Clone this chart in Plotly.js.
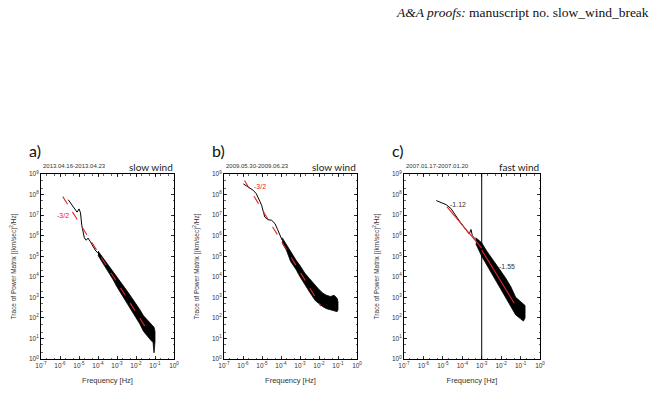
<!DOCTYPE html>
<html>
<head>
<meta charset="utf-8">
<script src="https://cdn.plot.ly/plotly-3.0.1.min.js"></script>
<style>
  html, body { margin: 0; padding: 0; background: #fff; }
  #chart { width: 659px; height: 393px; }
</style>
</head>
<body>
<div id="chart"></div>
<script>
// ---- Panel a: slow wind 2013.04.16-2013.04.23 ----
const aLineFreq  = [2.7e-6, 4.0e-6, 5.6e-6, 7.9e-6, 1.0e-5, 1.2e-5, 1.4e-5, 1.9e-5, 2.4e-5, 3.0e-5, 4.0e-5, 5.0e-5, 7.1e-5, 1.0e-4];
const aLinePower = [5.6e7, 3.5e7, 2.2e7, 1.4e7, 2.0e7, 1.3e7, 3.2e6, 7.9e5, 6.0e5, 7.6e5, 5.0e5, 3.5e5, 2.0e5, 1.4e5];
const aBandFreq  = [1.0e-4, 1.6e-4, 3.2e-4, 6.3e-4, 1.0e-3, 1.6e-3, 3.2e-3, 6.3e-3, 1.0e-2, 1.6e-2, 2.5e-2, 4.0e-2, 5.6e-2, 7.9e-2, 8.9e-2, 1.0e-1];
const aBandUpper = [1.8e5, 1.0e5, 4.5e4, 1.8e4, 1.0e4, 5.6e3, 2.2e3, 8.9e2, 5.0e2, 2.5e2, 1.26e2, 7.9e1, 5.6e1, 4.0e1, 3.5e1, 2.2e1];
const aBandLower = [1.1e5, 5.6e4, 2.0e4, 7.1e3, 3.2e3, 1.6e3, 5.6e2, 2.0e2, 1.0e2, 5.0e1, 2.2e1, 1.26e1, 8.9e0, 6.3e0, 2.0e0, 7.1e0];
const aFitFreq   = [1.4e-6, 3.7e-2];
const aFitPower  = [7.9e7, 2.8e1];

// ---- Panel b: slow wind 2009.05.30-2009.06.23 ----
const bLineFreq  = [1.05e-6, 2.0e-6, 3.5e-6, 5.0e-6, 6.3e-6, 7.9e-6, 9.5e-6, 1.2e-5, 1.4e-5, 1.8e-5, 2.1e-5, 3.2e-5, 4.0e-5, 4.8e-5, 6.6e-5, 8.9e-5, 1.15e-4];
const bLinePower = [3.3e8, 2.2e8, 1.6e8, 1.1e8, 7.4e7, 4.5e7, 3.0e7, 1.4e7, 8.1e6, 6.6e6, 6.0e6, 5.6e6, 4.8e6, 3.9e6, 2.0e6, 1.0e6, 6.0e5];
const bBandFreq  = [1.15e-4, 2.0e-4, 3.2e-4, 6.3e-4, 1.0e-3, 1.8e-3, 3.2e-3, 6.3e-3, 1.0e-2, 1.6e-2, 2.5e-2, 4.0e-2, 6.3e-2, 8.9e-2, 1.0e-1];
const bBandUpper = [8.0e5, 3.5e5, 1.5e5, 6.3e4, 3.5e4, 1.5e4, 8.0e3, 3.8e3, 2.4e3, 1.6e3, 1.25e3, 1.1e3, 1.25e3, 9.0e2, 6.3e2];
const bBandLower = [4.5e5, 1.8e5, 5.6e4, 2.2e4, 1.0e4, 4.0e3, 1.8e3, 7.0e2, 4.8e2, 3.5e2, 2.8e2, 2.5e2, 2.2e2, 2.0e2, 2.5e2];
const bFitFreq   = [1.2e-6, 1.25e-2];
const bFitPower  = [4.8e8, 3.7e2];

// ---- Panel c: fast wind 2007.01.17-2007.01.20 ----
const cLineFreq  = [4.6e-6, 7.9e-6, 1.5e-5, 2.6e-5, 4.0e-5, 7.1e-5, 1.26e-4, 1.8e-4, 2.3e-4, 2.8e-4, 3.3e-4, 4.5e-4, 6.2e-4, 7.9e-4];
const cLinePower = [5.1e7, 4.2e7, 3.2e7, 2.1e7, 1.1e7, 5.2e6, 2.5e6, 1.6e6, 1.2e6, 2.0e6, 1.0e6, 7.1e5, 5.8e5, 4.0e5];
const cBandFreq  = [5.0e-4, 1.0e-3, 1.8e-3, 3.2e-3, 5.6e-3, 1.0e-2, 1.8e-2, 3.2e-2, 5.6e-2, 1.0e-1, 1.4e-1, 1.7e-1];
const cBandUpper = [7.9e5, 4.5e5, 1.8e5, 8.0e4, 3.5e4, 1.8e4, 8.0e3, 3.2e3, 1.0e3, 6.3e2, 5.0e2, 4.0e2];
const cBandLower = [4.0e5, 1.0e5, 3.5e4, 1.4e4, 6.3e3, 2.2e3, 9.0e2, 3.5e2, 1.4e2, 9.0e1, 7.0e1, 1.0e2];
const cFit1Freq  = [1.6e-5, 1.0e-3];
const cFit1Power = [2.6e7, 2.5e5];
const cFit2Freq  = [1.0e-3, 4.7e-2];
const cFit2Power = [2.0e5, 5.2e2];
const cBreakFreq = 1.0e-3;

// ---- Axis labels ----
const xTickVals = [1e-7, 1e-6, 1e-5, 1e-4, 1e-3, 1e-2, 1e-1, 1e0];
const xTickText = ['10<sup>-7</sup>', '10<sup>-6</sup>', '10<sup>-5</sup>', '10<sup>-4</sup>', '10<sup>-3</sup>', '10<sup>-2</sup>', '10<sup>-1</sup>', '10<sup>0</sup>'];
const yTickVals = [1e0, 1e1, 1e2, 1e3, 1e4, 1e5, 1e6, 1e7, 1e8, 1e9];
const yTickText = ['10<sup>0</sup>', '10<sup>1</sup>', '10<sup>2</sup>', '10<sup>3</sup>', '10<sup>4</sup>', '10<sup>5</sup>', '10<sup>6</sup>', '10<sup>7</sup>', '10<sup>8</sup>', '10<sup>9</sup>'];
const panelLetters = ['a)', 'b)', 'c)'];
const panelDates   = ['2013.04.16-2013.04.23', '2009.05.30-2009.06.23', '2007.01.17-2007.01.20'];
const panelWinds   = ['slow wind', 'slow wind', 'fast wind'];
const xTitle = 'Frequency [Hz]';
const yTitle = 'Trace of Power Matrix [(km/sec)<sup>2</sup>/Hz]';
const headerText = '<i>A&amp;A proofs:</i> manuscript no. slow_wind_break';

const W = 659, H = 393;
const RED = '#e3262b';
const SANS = 'Liberation Sans, Arial, sans-serif';

// Pixel frame of each panel: [left, right], plotting rows shared
const panelX = [[41, 174], [224, 357], [404, 540]];
const panelTop = 174, panelBottom = 359;

function bandPolygon(freq, upper, lower) {
  return {
    x: freq.concat(freq.slice().reverse()),
    y: upper.concat(lower.slice().reverse())
  };
}

const traces = [];
function spectrum(i, lf, lp, bf, bu, bl) {
  const ax = i === 0 ? '' : String(i + 1);
  const poly = bandPolygon(bf, bu, bl);
  traces.push({
    x: poly.x, y: poly.y, xaxis: 'x' + ax, yaxis: 'y' + ax,
    mode: 'lines', fill: 'toself', fillcolor: '#000',
    line: { color: '#000', width: 0.8 }, hoverinfo: 'skip', showlegend: false
  });
  traces.push({
    x: lf, y: lp, xaxis: 'x' + ax, yaxis: 'y' + ax,
    mode: 'lines', line: { color: '#000', width: 1 }, showlegend: false
  });
}
function fit(i, f, p, dash) {
  const ax = i === 0 ? '' : String(i + 1);
  traces.push({
    x: f, y: p, xaxis: 'x' + ax, yaxis: 'y' + ax,
    mode: 'lines', line: { color: RED, width: 1.1, dash: dash }, showlegend: false
  });
}

spectrum(0, aLineFreq, aLinePower, aBandFreq, aBandUpper, aBandLower);
fit(0, aFitFreq, aFitPower, 'dash');
spectrum(1, bLineFreq, bLinePower, bBandFreq, bBandUpper, bBandLower);
fit(1, bFitFreq, bFitPower, 'dash');
// break frequency marker in panel c
traces.push({
  x: [cBreakFreq, cBreakFreq], y: [1e0, 1e9], xaxis: 'x3', yaxis: 'y3',
  mode: 'lines', line: { color: '#000', width: 1 }, showlegend: false
});
spectrum(2, cLineFreq, cLinePower, cBandFreq, cBandUpper, cBandLower);
fit(2, cFit1Freq, cFit1Power, 'solid');
fit(2, cFit2Freq, cFit2Power, 'solid');

const layout = {
  width: W, height: H, autosize: false,
  margin: { l: 0, r: 0, t: 0, b: 0 },
  paper_bgcolor: '#fff', plot_bgcolor: '#fff',
  font: { family: SANS, color: '#222' },
  showlegend: false,
  annotations: [],
  shapes: []
};

function px2x(px) { return px / W; }
function px2y(py) { return 1 - py / H; }

panelX.forEach((pxr, i) => {
  const s = i === 0 ? '' : String(i + 1);
  const common = {
    showline: true, linecolor: '#000', linewidth: 1, mirror: 'allticks',
    ticks: 'inside', ticklen: 3, tickwidth: 0.8, tickcolor: '#000',
    showgrid: false, zeroline: false, type: 'log',
    tickfont: { family: SANS, size: 6.5, color: '#333' },
    minor: { ticks: 'inside', ticklen: 1.5, tickwidth: 0.6, tickcolor: '#000', showgrid: false }
  };
  layout['xaxis' + s] = Object.assign({}, common, {
    domain: [px2x(pxr[0]), px2x(pxr[1])], anchor: 'y' + s,
    range: [-7, 0], tickvals: xTickVals, ticktext: xTickText,
    title: { text: xTitle, font: { family: SANS, size: 7.5, color: '#333' }, standoff: 9 }
  });
  layout['yaxis' + s] = Object.assign({}, common, {
    domain: [px2y(panelBottom), px2y(panelTop)], anchor: 'x' + s,
    range: [0, 9], tickvals: yTickVals, ticktext: yTickText,
    title: { text: yTitle, font: { family: SANS, size: 6.5, color: '#333' }, standoff: 11 }
  });
  layout.annotations.push(
    { xref: 'paper', yref: 'paper', x: px2x(pxr[0] - 14), y: px2y(150), text: panelLetters[i],
      showarrow: false, xanchor: 'left', yanchor: 'middle', font: { family: 'Lato, Open Sans, sans-serif', size: 16, color: '#111' } },
    { xref: 'paper', yref: 'paper', x: px2x(pxr[0]), y: px2y(165.5), text: panelDates[i],
      showarrow: false, xanchor: 'left', yanchor: 'middle', font: { family: SANS, size: 6, color: '#333' } },
    { xref: 'paper', yref: 'paper', x: px2x(pxr[1] + 1), y: px2y(167), text: panelWinds[i],
      showarrow: false, xanchor: 'right', yanchor: 'middle', font: { family: 'Lato, Open Sans, sans-serif', size: 10, color: '#222' } }
  );
});

// slope labels, placed in log10 axis units
layout.annotations.push(
  { xref: 'x', yref: 'y', x: Math.log10(1.4e-6), y: Math.log10(9.8e6), text: '-3/2', showarrow: false,
    font: { family: SANS, size: 7, color: RED } },
  { xref: 'x2', yref: 'y2', x: Math.log10(7.4e-6), y: Math.log10(2.6e8), text: '-3/2', showarrow: false,
    font: { family: SANS, size: 7, color: RED } },
  { xref: 'x3', yref: 'y3', x: Math.log10(5.8e-5), y: Math.log10(3.3e7), text: '-1.12', showarrow: false,
    font: { family: SANS, size: 7, color: '#333' } },
  { xref: 'x3', yref: 'y3', x: Math.log10(2.1e-2), y: Math.log10(3.0e4), text: '-1.55', showarrow: false,
    font: { family: SANS, size: 7, color: '#333' } },
  { xref: 'paper', yref: 'paper', x: px2x(651), y: px2y(12), text: headerText, showarrow: false,
    xanchor: 'right', yanchor: 'middle', font: { family: 'Liberation Serif, Times New Roman, serif', size: 13.5, color: '#111' } }
);

Plotly.newPlot('chart', traces, layout, { staticPlot: true, displayModeBar: false });
</script>
</body>
</html>
